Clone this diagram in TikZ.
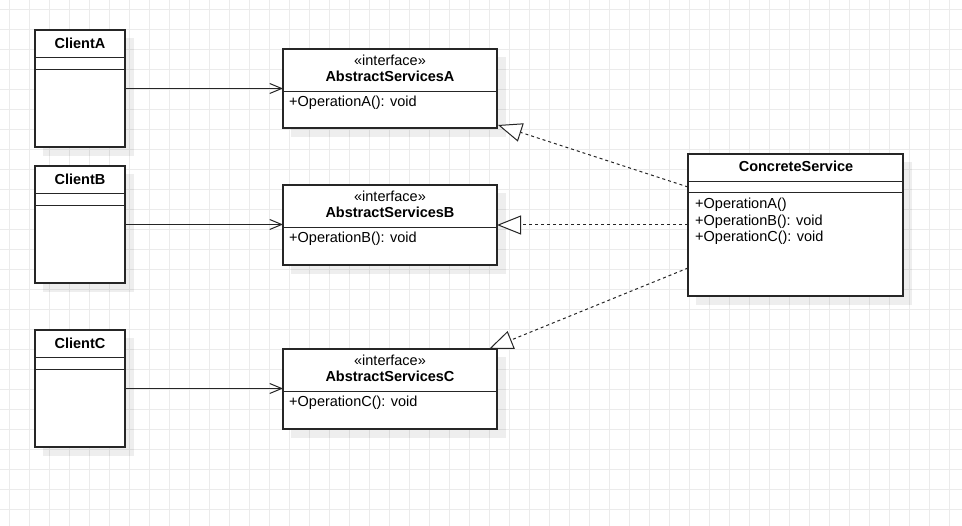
\documentclass[tikz,border=0pt]{standalone}
\usepackage{fontspec}
\setmainfont{Liberation Sans}
\usetikzlibrary{arrows.meta}
\begin{document}
\begin{tikzpicture}[x=1pt,y=-1pt,
  gridline/.style={draw=black!8,line width=0.8pt},
  shade/.style={fill=black,opacity=0.065},
  umlbox/.style={draw=black!85,fill=white,line width=1.2pt,rectangle,anchor=north west,inner sep=0pt,outer sep=0pt},
  divider/.style={draw=black!85,line width=1.2pt},
  txt/.style={inner sep=0pt,anchor=base,font=\fontsize{14.5}{17}\selectfont},
  btxt/.style={txt,font=\fontsize{14.5}{17}\selectfont\bfseries},
  ltxt/.style={txt,anchor=base west},
  assoc/.style={draw=black!85,line width=1pt,-{Straight Barb[length=12pt,width=10pt,line width=1pt]}},
  realize/.style={draw=black!85,line width=1pt,dash pattern=on 3pt off 3pt,-{Triangle[open,length=24pt,width=19pt,line width=1pt,fill=white]}}
]
\useasboundingbox (0,0) rectangle (962,526);
\fill[white] (0,0) rectangle (962,526);
\foreach \g in {9.5,29.5,...,959.5} \draw[gridline] (\g,0) -- (\g,526);
\foreach \g in {9.5,29.5,...,519.5} \draw[gridline] (0,\g) -- (962,\g);

% shadows
\fill[shade] (43,38) rectangle (134,156);
\fill[shade] (43,174) rectangle (134,292);
\fill[shade] (43,338) rectangle (134,456);
\fill[shade] (291,57) rectangle (506,137);
\fill[shade] (291,193) rectangle (506,274);
\fill[shade] (291,357) rectangle (506,438);
\fill[shade] (696,162) rectangle (912,305);

% clients
\node[umlbox,minimum width=90pt,minimum height=117pt] (ca) at (35,30) {};
\node[umlbox,minimum width=90pt,minimum height=117pt] (cb) at (35,166) {};
\node[umlbox,minimum width=90pt,minimum height=117pt] (cc) at (35,330) {};
\draw[divider] (35,57.5) -- (125,57.5) (35,69.5) -- (125,69.5);
\draw[divider] (35,193.5) -- (125,193.5) (35,205.5) -- (125,205.5);
\draw[divider] (35,357.5) -- (125,357.5) (35,369.5) -- (125,369.5);
\node[btxt] (cat) at (80,49) {ClientA};
\node[btxt] (cbt) at (80,185) {ClientB};
\node[btxt] (cct) at (80,349) {ClientC};

% interfaces
\node[umlbox,minimum width=214pt,minimum height=79pt] (asa) at (283,49) {};
\node[umlbox,minimum width=214pt,minimum height=80pt] (asb) at (283,185) {};
\node[umlbox,minimum width=214pt,minimum height=80pt] (asc) at (283,349) {};
\draw[divider] (283,91.5) -- (497,91.5);
\draw[divider] (283,227.5) -- (497,227.5);
\draw[divider] (283,391.5) -- (497,391.5);
\node[txt] (asas) at (390,66) {«interface»};
\node[btxt] (asan) at (390,82) {AbstractServicesA};
\node[ltxt] (asao) at (289,107) {+OperationA(): void};
\node[txt] (asbs) at (390,202) {«interface»};
\node[btxt] (asbn) at (390,218) {AbstractServicesB};
\node[ltxt] (asbo) at (289,243) {+OperationB(): void};
\node[txt] (ascs) at (390,366) {«interface»};
\node[btxt] (ascn) at (390,382) {AbstractServicesC};
\node[ltxt] (asco) at (289,407) {+OperationC(): void};

% concrete service
\node[umlbox,minimum width=215pt,minimum height=142pt] (cs) at (688,154) {};
\draw[divider] (688,181.5) -- (903,181.5) (688,192.5) -- (903,192.5);
\node[btxt] (cst) at (796,172) {ConcreteService};
\node[ltxt] (cso1) at (695,209) {+OperationA()};
\node[ltxt] (cso2) at (695,225.5) {+OperationB(): void};
\node[ltxt] (cso3) at (695,242) {+OperationC(): void};

% associations
\draw[assoc] (ca.east) -- (asa.west);
\draw[assoc] (cb.east) -- (cb.east -| asb.west);
\draw[assoc] (cc.east) -- (cc.east -| asc.west);

% realizations
\coordinate (ra) at (688,187);
\coordinate (rc) at (688,268);
\draw[realize] (ra) -- ([xshift=1pt,yshift=3pt]asa.south east);
\draw[realize] (cs.west) -- (cs.west -| asb.east);
\draw[realize] (rc) -- ([xshift=-8pt]asc.north east);
\end{tikzpicture}
\end{document}
